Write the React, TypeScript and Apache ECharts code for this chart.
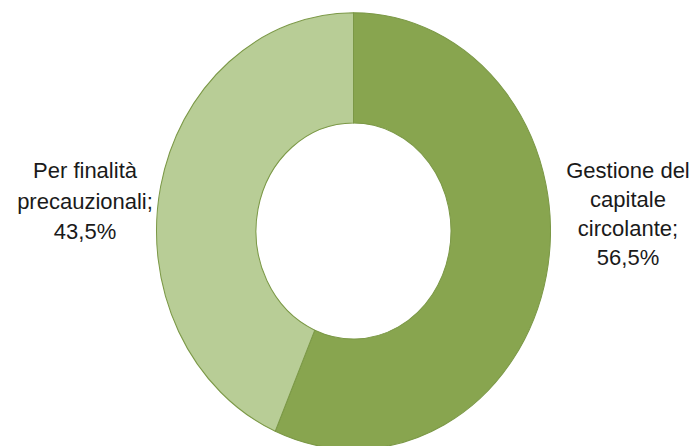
import React, { useEffect, useRef } from "react";
import * as echarts from "echarts";

const categories = ["Gestione del\ncapitale\ncircolante", "Per finalità\nprecauzionali"];
const values = [56.5, 43.5];
const sliceColors = ["#88a54f", "#b8cd96"];

const FONT = "'Liberation Sans', Arial, sans-serif";
const fmt = (v: number) => v.toFixed(1).replace(".", ",") + "%";

export default function App() {
  const pieRef = useRef<HTMLDivElement>(null);
  const txtRef = useRef<HTMLDivElement>(null);

  useEffect(() => {
    const pie = echarts.init(pieRef.current!, undefined, { renderer: "svg" });
    pie.setOption({
      animation: false,
      series: [
        {
          type: "pie",
          silent: true,
          center: [353.5, 231],
          radius: [97.5, 197],
          startAngle: 90,
          clockwise: true,
          label: { show: false },
          labelLine: { show: false },
          itemStyle: { borderColor: "#7b9846", borderWidth: 1 },
          data: categories.map((c, i) => ({
            name: c,
            value: values[i],
            itemStyle: { color: sliceColors[i] },
          })),
        },
      ],
    });

    const txt = echarts.init(txtRef.current!, undefined, { renderer: "svg" });
    const labelText = (i: number) => `${categories[i]};\n${fmt(values[i])}`;
    txt.setOption({
      animation: false,
      graphic: [
        {
          type: "text",
          x: 628,
          y: 213.5,
          style: {
            text: labelText(0),
            font: `22px ${FONT}`,
            fill: "#1a1a1a",
            align: "center",
            verticalAlign: "middle",
            lineHeight: 29,
          },
        },
        {
          type: "text",
          x: 85,
          y: 201,
          style: {
            text: labelText(1),
            font: `22px ${FONT}`,
            fill: "#1a1a1a",
            align: "center",
            verticalAlign: "middle",
            lineHeight: 30.5,
          },
        },
      ],
    });
    return () => {
      pie.dispose();
      txt.dispose();
    };
  }, []);

  return (
    <div
      style={{
        position: "fixed",
        left: 0,
        top: 0,
        width: 696,
        height: 446,
        overflow: "hidden",
        background: "#ffffff",
      }}
    >
      <div
        ref={pieRef}
        style={{
          position: "absolute",
          left: 0,
          top: 0,
          width: 696,
          height: 446,
          transform: "scaleY(1.108)",
          transformOrigin: "353.5px 231px",
        }}
      />
      <div
        ref={txtRef}
        style={{ position: "absolute", left: 0, top: 0, width: 696, height: 446 }}
      />
    </div>
  );
}
